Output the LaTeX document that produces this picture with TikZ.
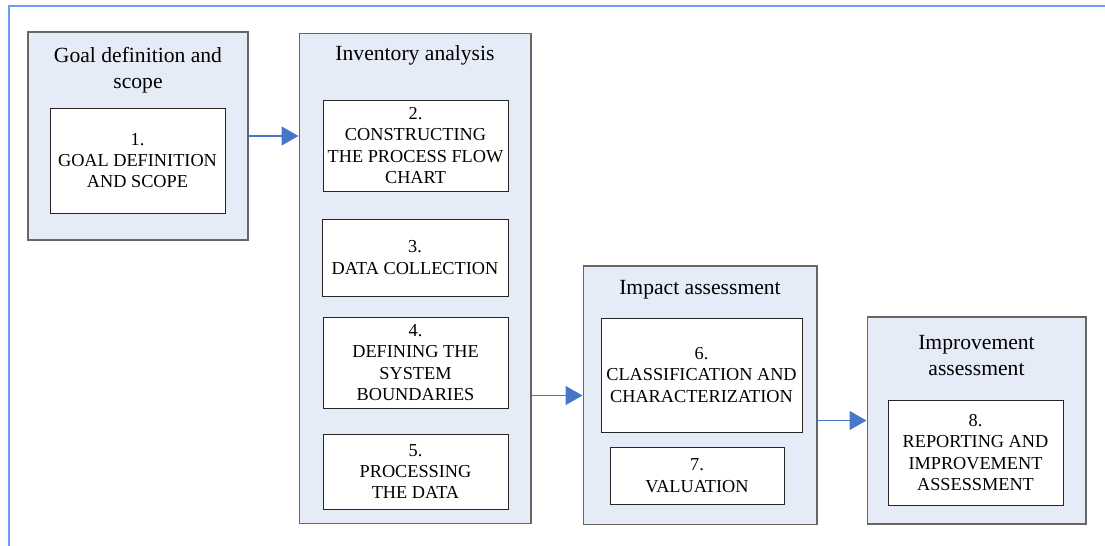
\documentclass[tikz,border=0pt]{standalone}
\usepackage{fontspec}
\setmainfont{Liberation Serif}
\usetikzlibrary{arrows.meta}

\definecolor{phasefill}{HTML}{E6ECF7}
\definecolor{flowblue}{HTML}{4677C8}
\definecolor{frameblue}{HTML}{6F9BF6}

\tikzset{
  phase/.style={draw=black!60, line width=0.6pt, fill=phasefill, inner sep=0pt},
  stepbox/.style={draw=black!85, line width=0.55pt, fill=white, inner sep=0pt, align=center,
    font=\fontsize{10.4}{12.2}\selectfont},
  title/.style={align=center, font=\fontsize{12.3}{14.7}\selectfont},
  flow/.style={draw=flowblue, line width=0.9pt, -{Triangle[length=0.34cm,width=0.38cm]}}
}

\begin{document}
\begin{tikzpicture}[x=0.02cm, y=-0.02cm]

	\useasboundingbox (0,0) rectangle (1105,546);
	\draw[frameblue, line width=1.3pt] (9,546) -- (9,6) -- (1105,6);

	% phases
	\node[phase, minimum width=4.40cm, minimum height=4.16cm] (goal) at (138,136) {};
	\node[phase, minimum width=4.64cm, minimum height=9.82cm] (inv) at (415,278.5) {};
	\node[phase, minimum width=4.68cm, minimum height=5.18cm] (imp) at (700,395.5) {};
	\node[phase, minimum width=4.38cm, minimum height=4.14cm] (impr) at (976.5,420.5) {};

	\node[title] (goalT) at (138,70) {Goal definition and\\scope};
	\node[title] (invT) at (415,55) {Inventory analysis};
	\node[title] (impT) at (700,290) {Impact assessment};
	\node[title] (imprT) at (976.5,355.5) {Improvement\\assessment};

	% steps
	\node[stepbox, minimum width=3.50cm, minimum height=2.10cm] (s1) at (137.5,160.5) {1.\\GOAL DEFINITION\\AND SCOPE};
	\node[stepbox, minimum width=3.70cm, minimum height=1.82cm] (s2) at (415.5,145.5) {2.\\CONSTRUCTING\\THE PROCESS FLOW\\CHART};
	\node[stepbox, minimum width=3.72cm, minimum height=1.54cm] (s3) at (415,257.5) {3.\\DATA COLLECTION};
	\node[stepbox, minimum width=3.70cm, minimum height=1.82cm] (s4) at (415.5,362.5) {4.\\DEFINING THE\\SYSTEM\\BOUNDARIES};
	\node[stepbox, minimum width=3.70cm, minimum height=1.50cm] (s5) at (415.5,471.5) {5.\\PROCESSING\\THE DATA};
	\node[stepbox, minimum width=4.02cm, minimum height=2.28cm] (s6) at (701.5,375) {6.\\CLASSIFICATION AND\\CHARACTERIZATION};
	\node[stepbox, minimum width=3.48cm, minimum height=1.14cm] (s7) at (697,475.5) {7.\\VALUATION};
	\node[stepbox, minimum width=3.50cm, minimum height=2.10cm] (s8) at (975.5,452.5) {8.\\REPORTING AND\\IMPROVEMENT\\ASSESSMENT};

	% arrows
	\draw[flow] (goal.east) -- (inv.west |- goal.east);
	\draw[flow] (inv.east |- imp.west) -- (imp.west);
	\draw[flow] (imp.east |- impr.west) -- (impr.west);

\end{tikzpicture}
\end{document}
